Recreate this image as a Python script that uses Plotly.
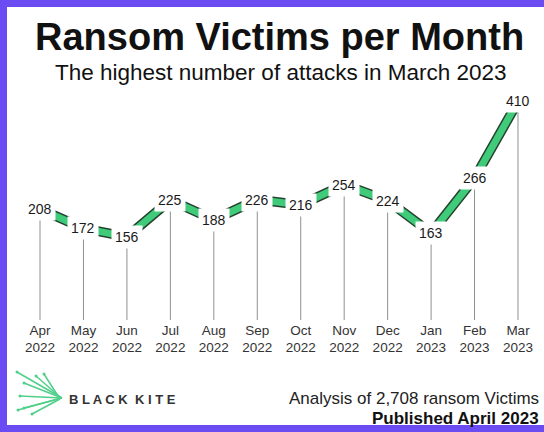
import plotly.graph_objects as go

months = ["Apr<br>2022", "May<br>2022", "Jun<br>2022", "Jul<br>2022", "Aug<br>2022", "Sep<br>2022",
          "Oct<br>2022", "Nov<br>2022", "Dec<br>2022", "Jan<br>2023", "Feb<br>2023", "Mar<br>2023"]
victims = [208, 172, 156, 225, 188, 226, 216, 254, 224, 163, 266, 410]

W, H = 544, 432
L, R, T, B = 10, 10, 90, 112
PW, PH = W - L - R, H - T - B


def px(x):
    return (x - L) / PW


def py(y):
    return (H - B - y) / PH


NARROW = "Liberation Sans Narrow, Arial Narrow, Liberation Sans, Arial, sans-serif"
PURPLE = "#6a4cf2"

idx = list(range(len(months)))

# drop lines from zero up to each value
drop_x, drop_y = [], []
for i, v in zip(idx, victims):
    drop_x += [i, i, None]
    drop_y += [0, v, None]

fig = go.Figure()
fig.add_trace(go.Scatter(x=drop_x, y=drop_y, mode="lines",
                         line=dict(color="#8a928d", width=1), hoverinfo="skip"))
# ribbon: dark outline + green fill
fig.add_trace(go.Scatter(x=idx, y=victims, mode="lines",
                         line=dict(color="#24432f", width=10)))
fig.add_trace(go.Scatter(x=idx, y=victims, mode="lines",
                         line=dict(color="#3fcb79", width=7)))

annotations = []
for i, v in zip(idx, victims):
    annotations.append(dict(x=i, y=v, text=str(v), showarrow=False,
                            font=dict(family=NARROW, size=14, color="#1a1a1a"),
                            bgcolor="white", borderpad=3))

annotations += [
    dict(x=px(279), y=py(37), xref="paper", yref="paper", showarrow=False,
         xanchor="center", yanchor="middle",
         text="<b>Ransom Victims per Month</b>",
         font=dict(family="Liberation Sans, Arial", size=38, color="#111")),
    dict(x=px(281), y=py(72), xref="paper", yref="paper", showarrow=False,
         xanchor="center", yanchor="middle",
         text="The highest number of attacks in March 2023",
         font=dict(family="Liberation Sans, Arial", size=22.5, color="#111")),
    dict(x=px(541), y=py(398), xref="paper", yref="paper", showarrow=False,
         xanchor="right", yanchor="middle", text="Analysis of 2,708 ransom Victims",
         font=dict(family="Liberation Sans, Arial", size=17, color="#222")),
    dict(x=px(541), y=py(418), xref="paper", yref="paper", showarrow=False,
         xanchor="right", yanchor="middle", text="<b>Published April 2023</b>",
         font=dict(family="Liberation Sans, Arial", size=17, color="#111")),
    dict(x=px(67), y=py(399), xref="paper", yref="paper", showarrow=False,
         xanchor="left", yanchor="middle", text="<b>B L A C K  K I T E</b>",
         font=dict(family="Liberation Sans, Arial", size=13, color="#333")),
]

shapes = [
    dict(type="rect", xref="paper", yref="paper",
         x0=px(3.5), x1=px(570), y0=py(428.5), y1=py(3.5),
         line=dict(color=PURPLE, width=7), layer="above"),
]
# kite logo strokes
for (x0, y0), (x1, y1) in [((17, 372), (62, 398)), ((24, 383), (62, 398)),
                           ((20, 396), (62, 398)), ((24, 408), (62, 398)),
                           ((36, 376), (60, 397)), ((44, 374), (58, 396)),
                           ((18, 410), (58, 399)), ((32, 414), (60, 399))]:
    shapes.append(dict(type="line", xref="paper", yref="paper",
                       x0=px(x0), y0=py(y0), x1=px(x1), y1=py(y1),
                       line=dict(color="#4fd08a", width=1.5)))
    shapes.append(dict(type="circle", xref="paper", yref="paper",
                       x0=px(x0 - 1.5), x1=px(x0 + 1.5), y0=py(y0 + 1.5), y1=py(y0 - 1.5),
                       fillcolor="#4fd08a", line=dict(width=0)))

fig.update_layout(
    width=W, height=H,
    margin=dict(l=L, r=R, t=T, b=B),
    paper_bgcolor="white", plot_bgcolor="white",
    showlegend=False,
    annotations=annotations,
    shapes=shapes,
    xaxis=dict(tickmode="array", tickvals=idx, ticktext=months,
               range=[-30 / 43.45, 11 + 16 / 43.45], showgrid=False, zeroline=False,
               showline=False, ticks="", tickfont=dict(family=NARROW, size=13.5, color="#333")),
    yaxis=dict(range=[0, 431.5], visible=False),
)

fig.write_html("out.html", config={"displayModeBar": False},
               post_script="document.body.style.margin='0';document.body.style.overflow='hidden';")
